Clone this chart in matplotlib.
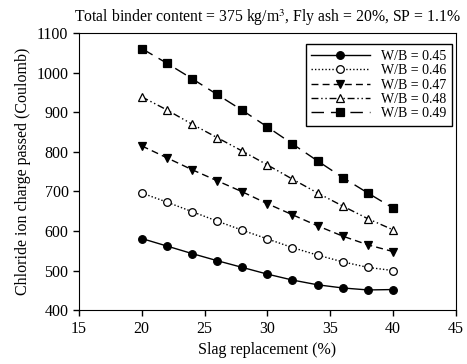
import matplotlib
matplotlib.use("Agg")
import matplotlib.pyplot as plt

plt.rcParams['font.family'] = ['Liberation Serif', 'DejaVu Serif']
plt.rcParams['mathtext.fontset'] = 'stix'

slag = [20, 22, 24, 26, 28, 30, 32, 34, 36, 38, 40]
wb045 = [581, 562, 543, 525, 508, 491, 476, 464, 456, 451, 452]
wb046 = [696, 673, 649, 625, 602, 580, 558, 539, 522, 508, 500]
wb047 = [815, 785, 755, 727, 699, 669, 641, 613, 587, 565, 548]
wb048 = [939, 906, 870, 836, 802, 767, 731, 696, 663, 631, 603]
wb049 = [1061, 1024, 985, 945, 905, 863, 820, 777, 735, 696, 658]
labels = ["W/B = 0.45", "W/B = 0.46", "W/B = 0.47", "W/B = 0.48", "W/B = 0.49"]

fig = plt.figure(figsize=(4.67, 3.64), dpi=100)
ax = fig.add_axes([0.169, 0.148, 0.807, 0.761])

styles = [
    dict(ls='-', marker='o', mfc='black'),
    dict(ls=(0, (1, 1.5)), marker='o', mfc='white'),
    dict(ls=(0, (5, 3)), marker='v', mfc='black'),
    dict(ls=(0, (5, 2, 1, 2, 1, 2)), marker='^', mfc='white'),
    dict(ls=(0, (9, 5)), marker='s', mfc='black'),
]
for ys, lab, st in zip([wb045, wb046, wb047, wb048, wb049], labels, styles):
    ax.plot(slag, ys, color='black', lw=1.0, ms=5.5, mec='black', mew=0.9,
            label=lab, **st)

ax.set_xlim(15, 45)
ax.set_ylim(400, 1100)
ax.set_xticks(range(15, 46, 5))
ax.set_yticks(range(400, 1101, 100))
ax.tick_params(direction='out', labelsize=11.5, length=4, width=1, top=False, right=False)
ax.set_xlabel("Slag replacement (%)", fontsize=11.5)
ax.set_ylabel("Chloride ion charge passed (Coulomb)", fontsize=11.5)
ax.set_title(r"Total binder content = 375 kg/m$^3$, Fly ash = 20%, SP = 1.1%", fontsize=11.3, pad=8)
leg = ax.legend(loc='upper right', fontsize=10, handlelength=4.2, frameon=True, fancybox=False,
                edgecolor='black', framealpha=1, borderpad=0.4, labelspacing=0.1,
                borderaxespad=0, bbox_to_anchor=(0.989, 0.96))
leg.get_frame().set_linewidth(1.0)

fig.savefig("out.png", dpi=100)
